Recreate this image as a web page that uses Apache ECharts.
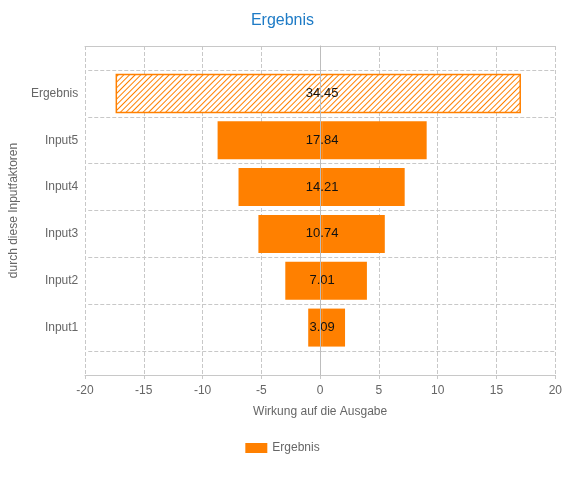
<!DOCTYPE html>
<html lang="de">
<head>
    <meta charset="UTF-8">
    <script src="https://cdn.jsdelivr.net/npm/echarts@6/dist/echarts.min.js"></script>
    <title>Ergebnis</title>
    <style>
        html, body { margin: 0; padding: 0; background: #fff; }
        #main { width: 565px; height: 478px; }
    </style>
</head>
<body>
    <div id="main"></div>
    <script type="text/javascript">
        // Daten
        var categories = ['Input1', 'Input2', 'Input3', 'Input4', 'Input5', 'Ergebnis'];
        var lowValues = [-1.19, -3.15, -5.45, -7.15, -8.94, -17.6];
        var highValues = [1.96, 3.83, 5.36, 7.06, 8.94, 16.94];
        var totals = [3.09, 7.01, 10.74, 14.21, 17.84, 34.45];
        var xTicks = { min: -20, max: 20, interval: 5 };

        var orange = '#ff8000';
        var gridColor = '#c8c8c8';
        var labelColor = '#666';
        var barH = 38;

        // Ergebnis-Balken schraffiert
        var last = categories.length - 1;
        function styled(arr) {
            return arr.map(function (v, i) {
                if (i === last) {
                    return {
                        value: v,
                        itemStyle: {
                            color: '#fff',
                            decal: {
                                symbol: 'rect',
                                color: orange,
                                backgroundColor: '#fff',
                                dashArrayX: [1, 0],
                                dashArrayY: [1, 3],
                                rotation: -Math.PI / 4
                            }
                        }
                    };
                }
                return v;
            });
        }

        var myChart = echarts.init(document.getElementById('main'));

        var option = {
            animation: false,
            title: {
                text: 'Ergebnis',
                left: 'center',
                top: 8,
                textStyle: { color: '#1e7bc6', fontSize: 16, fontWeight: 'normal', fontFamily: 'Liberation Sans' }
            },
            legend: {
                bottom: 19,
                left: 'center',
                icon: 'rect',
                itemWidth: 22,
                itemHeight: 10,
                itemGap: 6,
                textStyle: { color: labelColor, fontSize: 12, fontFamily: 'Liberation Sans' },
                data: ['Ergebnis']
            },
            grid: [
                { left: 85, right: 9, top: 46, bottom: 103 },
                { left: 85, right: 9, top: 70, bottom: 127 }
            ],
            xAxis: [
                {
                    gridIndex: 0,
                    type: 'value',
                    min: xTicks.min,
                    max: xTicks.max,
                    interval: xTicks.interval,
                    name: 'Wirkung auf die Ausgabe',
                    nameLocation: 'middle',
                    nameGap: 31,
                    nameTextStyle: { color: labelColor, fontSize: 12, fontFamily: 'Liberation Sans' },
                    axisLine: { onZero: false, lineStyle: { color: gridColor } },
                    axisTick: { show: true, length: 5, lineStyle: { color: gridColor, type: 'dashed' } },
                    axisLabel: { color: labelColor, fontSize: 12, margin: 10, fontFamily: 'Liberation Sans' },
                    splitLine: { show: true, lineStyle: { color: gridColor, type: 'dashed' } }
                },
                {
                    gridIndex: 0,
                    type: 'value',
                    position: 'top',
                    min: xTicks.min,
                    max: xTicks.max,
                    interval: xTicks.interval,
                    axisLine: { show: true, onZero: false, lineStyle: { color: gridColor } },
                    axisTick: { show: false },
                    axisLabel: { show: false },
                    splitLine: { show: false }
                },
                {
                    gridIndex: 1,
                    type: 'value',
                    min: xTicks.min,
                    max: xTicks.max,
                    show: false
                }
            ],
            yAxis: [
                {
                    // Nulllinie ueber den Balken
                    gridIndex: 0,
                    type: 'value',
                    min: 0,
                    max: 1,
                    z: 10,
                    axisLine: { show: true, onZero: true, onZeroAxisIndex: 0, lineStyle: { color: '#bdbdbd' } },
                    axisTick: { show: false },
                    axisLabel: { show: false },
                    splitLine: { show: false }
                },
                {
                    gridIndex: 1,
                    type: 'category',
                    data: categories,
                    name: 'durch diese Inputfaktoren',
                    nameLocation: 'middle',
                    nameGap: 67,
                    nameTextStyle: { color: labelColor, fontSize: 12, fontFamily: 'Liberation Sans' },
                    axisLine: { show: false },
                    axisTick: { show: true, length: 6, lineStyle: { color: gridColor, type: 'dashed' } },
                    axisLabel: { color: labelColor, fontSize: 12, margin: 10, fontFamily: 'Liberation Sans' },
                    splitLine: { show: true, lineStyle: { color: gridColor, type: 'dashed' } }
                }
            ],
            series: [
                {
                    name: 'Ergebnis',
                    type: 'bar',
                    xAxisIndex: 2,
                    yAxisIndex: 1,
                    stack: 'spanne',
                    barWidth: barH,
                    itemStyle: { color: orange },
                    data: styled(lowValues)
                },
                {
                    name: 'Ergebnis',
                    type: 'bar',
                    xAxisIndex: 2,
                    yAxisIndex: 1,
                    stack: 'spanne',
                    barWidth: barH,
                    itemStyle: { color: orange },
                    label: {
                        show: true,
                        position: [0, '50%'],
                        align: 'center',
                        verticalAlign: 'middle',
                        color: '#111',
                        fontSize: 13,
                        fontFamily: 'Liberation Sans',
                        formatter: function (p) { return totals[p.dataIndex].toFixed(2); }
                    },
                    data: styled(highValues)
                },
                {
                    // Rahmen um den Ergebnis-Balken
                    name: 'Rahmen',
                    type: 'custom',
                    xAxisIndex: 2,
                    yAxisIndex: 1,
                    silent: true,
                    z: 3,
                    encode: { x: [1, 2], y: 0 },
                    data: [[last, lowValues[last], highValues[last]]],
                    renderItem: function (params, api) {
                        var a = api.coord([api.value(1), api.value(0)]);
                        var b = api.coord([api.value(2), api.value(0)]);
                        return {
                            type: 'rect',
                            shape: { x: a[0], y: a[1] - barH / 2, width: b[0] - a[0], height: barH },
                            style: { fill: 'none', stroke: orange, lineWidth: 1.5 }
                        };
                    }
                }
            ]
        };
        myChart.setOption(option);
    </script>
</body>
</html>
